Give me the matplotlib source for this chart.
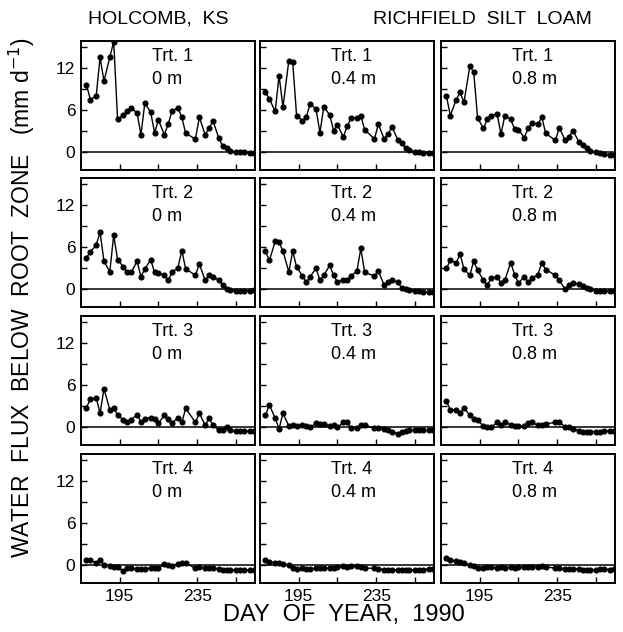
import numpy as np
import matplotlib.pyplot as plt

plt.rcParams['font.family'] = ['Liberation Sans', 'DejaVu Sans']

# sampling days (day of year, 1990)
days = [178, 180, 183, 185, 187, 190, 192, 194, 197, 199, 201, 204, 206, 208, 211,
        213, 215, 218, 220, 222, 225, 227, 229, 234, 236, 239, 241, 243, 246, 248,
        250, 252, 255, 257, 259, 262, 264]

treatments = ['Trt. 1', 'Trt. 2', 'Trt. 3', 'Trt. 4']
depths = ['0 m', '0.4 m', '0.8 m']

# water flux below root zone, mm/d
trt1_0 = [9.6, 7.5, 8.0, 13.5, 10.1, 13.5, 15.7, 4.7, 5.3, 5.8, 6.3, 5.6, 2.5, 7.0, 5.7,
          2.8, 4.6, 2.5, 4.0, 5.9, 6.3, 5.0, 2.7, 1.9, 5.0, 2.5, 3.4, 4.5, 2.0, 0.9,
          0.6, 0.2, 0.0, 0.1, 0.0, -0.1, -0.1]
trt1_04 = [8.5, 7.6, 5.8, 10.9, 6.4, 13.0, 12.8, 5.2, 4.5, 5.0, 6.9, 6.1, 2.8, 6.5, 5.3,
           3.1, 3.9, 2.2, 3.7, 4.9, 4.9, 5.2, 3.2, 1.9, 4.0, 1.9, 2.6, 3.6, 1.8, 1.3,
           0.6, 0.3, 0.0, 0.0, -0.1, -0.1, -0.1]
trt1_08 = [8.0, 5.2, 7.5, 8.5, 7.1, 12.2, 11.4, 4.9, 3.4, 4.7, 5.2, 5.5, 2.6, 5.2, 4.7,
           3.3, 3.2, 2.1, 3.4, 4.2, 4.0, 5.0, 2.7, 1.7, 3.5, 1.7, 2.2, 3.1, 1.5, 1.0,
           0.6, 0.2, 0.0, -0.1, -0.3, -0.4, -0.4]

trt2_0 = [4.5, 5.3, 6.3, 8.1, 4.0, 2.5, 7.7, 4.2, 3.2, 2.4, 2.4, 4.0, 1.8, 2.9, 4.2,
          2.4, 2.3, 2.0, 1.3, 2.4, 3.1, 5.5, 2.9, 2.0, 3.6, 1.3, 2.0, 1.8, 1.3, 0.6,
          0.1, -0.1, -0.2, -0.2, -0.2, -0.2, -0.1]
trt2_04 = [5.4, 4.1, 6.8, 6.7, 5.4, 2.5, 5.4, 3.2, 1.9, 1.0, 1.8, 3.0, 1.3, 2.0, 3.4,
           2.0, 1.0, 1.4, 1.3, 1.9, 2.6, 5.8, 2.4, 1.9, 2.6, 0.6, 1.0, 1.4, 1.0, 0.2,
           0.1, -0.1, -0.3, -0.3, -0.4, -0.4, -0.4]
trt2_08 = [3.0, 4.1, 3.8, 5.0, 2.9, 2.0, 4.0, 2.7, 1.3, 0.6, 1.6, 1.8, 0.9, 1.3, 3.8,
           2.1, 0.9, 1.8, 1.0, 1.6, 2.1, 3.8, 2.8, 2.0, 1.3, 0.0, 0.6, 0.9, 0.7, 0.5,
           0.2, 0.1, -0.2, -0.3, -0.3, -0.2, -0.2]

trt3_0 = [2.8, 4.0, 4.2, 2.0, 5.5, 2.5, 2.7, 1.8, 1.0, 0.7, 1.1, 1.8, 0.8, 1.2, 1.4,
          1.2, 0.6, 1.7, 1.2, 0.6, 1.4, 0.7, 2.7, 0.7, 2.0, 0.3, 1.3, 0.3, -0.4, -0.4,
          0.1, -0.4, -0.5, -0.5, -0.5, -0.5, -0.5]
trt3_04 = [1.7, 3.2, 1.3, -0.2, 2.0, 0.2, 0.4, 0.2, 0.3, 0.2, 0.0, 0.6, 0.5, 0.5, 0.2,
           0.3, 0.0, 0.7, 0.7, -0.1, -0.1, 0.3, 0.3, -0.1, -0.1, -0.2, -0.4, -0.6, -0.9, -0.7,
           -0.5, -0.4, -0.4, -0.4, -0.4, -0.4, -0.4]
trt3_08 = [3.7, 2.5, 2.4, 2.0, 2.8, 1.7, 1.2, 1.0, 0.2, 0.1, 0.0, 0.7, 0.4, 0.7, 0.4,
           0.2, 0.2, 0.2, 0.6, 0.7, 0.3, 0.4, 0.5, 0.7, 0.7, 0.1, 0.0, -0.2, -0.5, -0.6,
           -0.6, -0.6, -0.6, -0.6, -0.5, -0.5, -0.5]

trt4_0 = [0.7, 0.7, 0.4, 0.7, 0.1, -0.1, -0.3, -0.3, -0.8, -0.4, -0.4, -0.5, -0.5, -0.5, -0.4,
          -0.4, -0.4, 0.2, 0.0, -0.1, 0.2, 0.3, 0.3, -0.4, -0.3, -0.4, -0.4, -0.4, -0.5, -0.6,
          -0.6, -0.6, -0.7, -0.6, -0.6, -0.7, -0.6]
trt4_04 = [0.8, 0.5, 0.4, 0.3, 0.2, 0.0, -0.4, -0.5, -0.4, -0.5, -0.5, -0.4, -0.4, -0.4, -0.4,
           -0.4, -0.3, -0.1, -0.3, -0.1, -0.1, -0.3, -0.4, -0.4, -0.5, -0.6, -0.6, -0.6, -0.7, -0.6,
           -0.7, -0.7, -0.6, -0.6, -0.6, -0.5, -0.5]
trt4_08 = [1.0, 0.8, 0.6, 0.5, 0.3, 0.0, -0.1, -0.4, -0.4, -0.2, -0.3, -0.4, -0.3, -0.4, -0.3,
           -0.4, -0.3, -0.3, -0.2, -0.2, -0.2, -0.1, -0.2, -0.4, -0.4, -0.5, -0.5, -0.5, -0.5, -0.6,
           -0.6, -0.6, -0.6, -0.5, -0.5, -0.6, -0.5]

flux = [[trt1_0, trt1_04, trt1_08],
        [trt2_0, trt2_04, trt2_08],
        [trt3_0, trt3_04, trt3_08],
        [trt4_0, trt4_04, trt4_08]]

W, H = 623, 632
col_left = [81, 260, 441]
row_top = [41, 178, 316, 454]
pw, ph = 174, 129

fig = plt.figure(figsize=(W / 100, H / 100), dpi=100)
fig.patch.set_facecolor('white')

for i in range(4):
    for j in range(3):
        ax = fig.add_axes([col_left[j] / W, 1 - (row_top[i] + ph) / H, pw / W, ph / H])
        ax.axhline(0, color='black', lw=1.1, zorder=1)
        ax.plot(days, flux[i][j], color='black', lw=1.0, marker='o', ms=3.4, zorder=2)
        ax.set_xlim(175.2, 264.6)
        ax.set_ylim(-2.5, 15.8)
        ax.set_yticks([0, 3, 6, 9, 12, 15])
        ax.set_xticks([195, 215, 235, 255])
        ax.tick_params(direction='in', length=4, width=1.0, labelsize=12.5, pad=4,
                       top=False, right=False)
        if j == 0:
            ax.set_yticklabels(['0', '', '6', '', '12', ''])
        else:
            ax.set_yticklabels([])
        if i == 3:
            ax.set_xticklabels(['195', '', '235', ''])
        else:
            ax.set_xticklabels([])
        for s in ax.spines.values():
            s.set_linewidth(1.4)
        ax.text(0.41, 0.88, treatments[i], transform=ax.transAxes, fontsize=13,
                ha='left', va='center')
        ax.text(0.41, 0.70, depths[j], transform=ax.transAxes, fontsize=13,
                ha='left', va='center')

fig.text(158 / W, 1 - 19 / H, 'HOLCOMB,  KS', fontsize=14, ha='center', va='center')
fig.text(482 / W, 1 - 19 / H, 'RICHFIELD  SILT  LOAM', fontsize=14, ha='center', va='center')
fig.text(344 / W, 1 - 615 / H, 'DAY  OF  YEAR,  1990', fontsize=17, ha='center', va='center')
fig.text(22 / W, 1 - 298 / H, r'WATER  FLUX  BELOW  ROOT  ZONE   (mm d$^{-1}$)',
         fontsize=16.5, rotation=90, ha='center', va='center')

plt.savefig('out.png', dpi=100)
